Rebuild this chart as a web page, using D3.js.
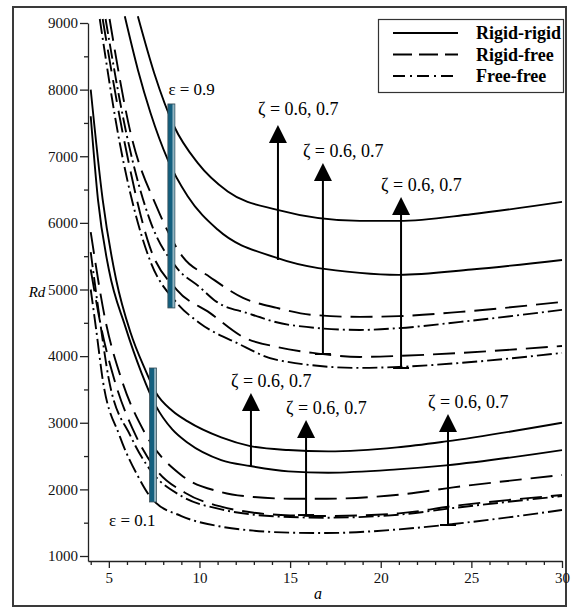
<!DOCTYPE html>
<html>
<head>
<meta charset="utf-8">
<script src="https://cdn.jsdelivr.net/npm/d3@7/dist/d3.min.js"></script>
<style>
  body { margin: 0; background: #fff; }
  svg text { font-family: "Liberation Serif", "Times New Roman", serif; }
</style>
</head>
<body>
<div id="chart"></div>
<script>
// ---- data: [a, Rd] ----
var xTicks = [5, 10, 15, 20, 25, 30];
var yTicks = [1000, 2000, 3000, 4000, 5000, 6000, 7000, 8000, 9000];

// epsilon = 0.9
var rrE9Z7 = [[6.6,9100],[7.5,8250],[8.6,7450],[9.9,6900],[11.56,6470],[14.3,6195],[18.85,6030],[21,6030],[25,6130],[30,6315]];
var rrE9Z6 = [[5.88,9100],[6.6,8300],[7.3,7650],[8.25,6950],[9.35,6400],[11,5900],[14.27,5474],[18.85,5250],[21,5220],[25,5300],[30,5444]];
var rfE9Z7 = [[5.04,9060],[6.2,7350],[7.64,6240],[9.08,5489],[10.57,5189],[12.4,4874],[14.27,4724],[16.25,4619],[18.85,4589],[21,4600],[24.4,4664],[30,4814]];
var ffE9Z7 = [[4.82,9060],[6.0,7300],[7.26,6045],[8.75,5324],[10,5039],[10.95,4814],[12.6,4649],[14.98,4468],[18.85,4393],[21,4420],[24.4,4514],[30,4694]];
var rfE9Z6 = [[4.66,9060],[5.8,7300],[7.26,5640],[8.75,4994],[10.57,4649],[12.4,4288],[14.27,4138],[16.25,4048],[18.85,3988],[21,4003],[24.4,4048],[30,4153]];
var ffE9Z6 = [[4.5,9060],[5.6,7200],[7.26,5444],[8.75,4799],[10,4498],[12.06,4198],[14.27,3943],[18.85,3823],[21,3838],[24.4,3898],[30,4048]];

// epsilon = 0.1
var rrE1Z7 = [[4,8000],[4.66,6350],[5.4,5150],[6.2,4350],[7.0,3800],[7.6,3450],[8.5,3180],[9.35,3020],[11.2,2780],[12.8,2650],[14.9,2590],[17.1,2570],[20.9,2630],[23.6,2720],[30,3000]];
var rrE1Z6 = [[4,7600],[4.4,6350],[5.0,5300],[5.9,4450],[6.8,3750],[7.6,3250],[8.5,2900],[9.35,2700],[11.2,2440],[12.8,2350],[14.9,2270],[17.1,2250],[20.9,2300],[23.6,2360],[30,2590]];
var rfE1Z7 = [[4,5860],[4.8,4550],[5.7,3650],[6.98,2850],[8.97,2220],[11.2,1960],[13,1885],[15,1860],[17,1860],[21,1920],[24,2030],[30,2215]];
var rfE1Z6 = [[4,5300],[4.6,4400],[5.3,3650],[6.5,2800],[7.6,2300],[9.2,1950],[11.2,1740],[13,1650],[15,1610],[17,1600],[21,1640],[24,1750],[30,1915]];
var ffE1Z7 = [[4,5560],[4.5,4550],[5.0,3650],[6.2,2800],[7.4,2250],[9,1900],[11.2,1700],[13,1620],[15,1585],[17,1575],[21,1620],[24,1720],[30,1900]];
var ffE1Z6 = [[4,5000],[4.3,4400],[4.66,3650],[5.6,2800],[6.6,2200],[7.4,1850],[9,1600],[11.2,1440],[13,1380],[15,1350],[17,1345],[21,1400],[24,1480],[30,1690]];

var series = [
  { kind: "rr", values: rrE9Z7 }, { kind: "rr", values: rrE9Z6 },
  { kind: "rf", values: rfE9Z7 }, { kind: "ff", values: ffE9Z7 },
  { kind: "rf", values: rfE9Z6 }, { kind: "ff", values: ffE9Z6 },
  { kind: "rr", values: rrE1Z7 }, { kind: "rr", values: rrE1Z6 },
  { kind: "rf", values: rfE1Z7 }, { kind: "rf", values: rfE1Z6 },
  { kind: "ff", values: ffE1Z7 }, { kind: "ff", values: ffE1Z6 }
];

var legendKinds = ["rr", "rf", "ff"];
var legendLabels = ["Rigid-rigid", "Rigid-free", "Free-free"];

// arrows: a, Rd at base, Rd at tip
var arrowA    = [14.33, 16.81, 21.12, 12.84, 15.88, 23.71];
var arrowBase = [5443, 4032, 3822, 2336, 1615, 1465];
var arrowTip  = [7470, 6899, 6389, 3447, 3041, 3132];
var arrowFoot = [false, true, true, false, true, true];
var arrowText = "ζ = 0.6, 0.7";

// epsilon bars: a, Rd bottom, Rd top
var barA = [8.45, 7.44];
var barLow = [4723, 1811];
var barHigh = [7785, 3822];
var barText = ["ε = 0.9", "ε = 0.1"];

// ---- drawing ----
var W = 571, H = 610;

var svg = d3.select("#chart").append("svg")
    .attr("width", W)
    .attr("height", H);

svg.append("rect")
    .attr("x", 13).attr("y", 7)
    .attr("width", 553).attr("height", 599)
    .attr("fill", "none")
    .attr("stroke", "#3a3a3a")
    .attr("stroke-width", 2);

var x = d3.scaleLinear().domain([3.85, 30]).range([88, 562]);
var y = d3.scaleLinear().domain([925, 9000]).range([561, 23]);

var dash = { rr: null, rf: "22,9", ff: "15,4,2,4" };
var legendDash = { rr: null, rf: "19,7", ff: "12,5,2,5" };

// axes
var yAxis = svg.append("g")
    .attr("transform", "translate(88,0)")
    .call(d3.axisLeft(y).tickValues(yTicks).tickSize(8).tickSizeOuter(0).tickFormat(d3.format("d")));
svg.append("g")
    .attr("transform", "translate(88,0)")
    .call(d3.axisLeft(y).tickValues(d3.range(1500, 9000, 1000)).tickSize(4).tickFormat(""))
    .select(".domain").remove();

var xAxis = svg.append("g")
    .attr("transform", "translate(0,561)")
    .call(d3.axisBottom(x).tickValues(xTicks).tickSize(7).tickSizeOuter(0));
svg.append("g")
    .attr("transform", "translate(0,561)")
    .call(d3.axisBottom(x).tickValues(d3.range(4, 30, 1).filter(function(d) { return d % 5 !== 0; })).tickSize(4).tickFormat(""))
    .select(".domain").remove();

svg.selectAll("g").attr("font-family", null);
svg.selectAll(".tick line, .domain").attr("stroke", "#222").attr("stroke-width", 1.3);
svg.selectAll(".tick text")
    .style("font-size", "15px")
    .attr("fill", "#111");
yAxis.selectAll(".tick text").attr("x", -10);
xAxis.selectAll(".tick text").attr("y", 11);

svg.append("text")
    .attr("x", 37).attr("y", 297)
    .style("font-style", "italic").style("font-size", "15px")
    .attr("text-anchor", "middle")
    .text("Rd");
svg.append("text")
    .attr("x", 318).attr("y", 599)
    .style("font-style", "italic").style("font-size", "16px")
    .attr("text-anchor", "middle")
    .text("a");

// curves
svg.append("clipPath").attr("id", "plot-clip")
  .append("rect").attr("x", 88).attr("y", 15).attr("width", 480).attr("height", 546);

var line = d3.line()
    .x(function(d) { return x(d[0]); })
    .y(function(d) { return y(d[1]); })
    .curve(d3.curveMonotoneX);

svg.append("g").attr("clip-path", "url(#plot-clip)")
  .selectAll("path")
  .data(series)
  .enter().append("path")
    .attr("d", function(d) { return line(d.values); })
    .attr("fill", "none")
    .attr("stroke", "#000")
    .attr("stroke-width", 1.9)
    .attr("stroke-dasharray", function(d) { return dash[d.kind]; });

// epsilon bars
barA.forEach(function(a, i) {
  var bx = x(a) - 3.5, top = y(barHigh[i]), h = y(barLow[i]) - y(barHigh[i]);
  svg.append("rect")
      .attr("x", bx).attr("y", top)
      .attr("width", 7).attr("height", h)
      .attr("fill", "#135f7e")
      .attr("stroke", "#3d4f57")
      .attr("stroke-width", 0.8);
  svg.append("rect")
      .attr("x", bx + 4.6).attr("y", top + 0.5)
      .attr("width", 2).attr("height", h - 1)
      .attr("fill", "#93b4c1");
});
svg.append("text")
    .attr("x", x(barA[0]) - 3).attr("y", y(barHigh[0]) - 9)
    .style("font-size", "17px")
    .text(barText[0]);
svg.append("text")
    .attr("x", x(barA[1]) - 44).attr("y", y(barLow[1]) + 24)
    .style("font-size", "17px")
    .text(barText[1]);

// arrows
arrowA.forEach(function(a, i) {
  var ax = x(a), yb = y(arrowBase[i]), yt = y(arrowTip[i]);
  svg.append("line")
      .attr("x1", ax).attr("x2", ax)
      .attr("y1", yb).attr("y2", yt + 16)
      .attr("stroke", "#000").attr("stroke-width", 2);
  svg.append("path")
      .attr("d", "M" + ax + "," + yt + "L" + (ax + 9) + "," + (yt + 18) + "L" + (ax - 9) + "," + (yt + 18) + "Z")
      .attr("fill", "#000");
  if (arrowFoot[i]) {
    svg.append("line")
        .attr("x1", ax - 8).attr("x2", ax + 8)
        .attr("y1", yb).attr("y2", yb)
        .attr("stroke", "#000").attr("stroke-width", 2);
  }
  svg.append("text")
      .attr("x", ax - 20).attr("y", yt - (i === 0 ? 10 : 6))
      .style("font-size", "18px")
      .text(arrowText);
});

// legend
var legend = svg.append("g");
legend.append("rect")
    .attr("x", 378.5).attr("y", 19.5)
    .attr("width", 185).attr("height", 73)
    .attr("fill", "#fff")
    .attr("stroke", "#333")
    .attr("stroke-width", 1.2);
legendKinds.forEach(function(k, i) {
  var ly = 33 + i * 21.5;
  legend.append("line")
      .attr("x1", 393).attr("x2", 458)
      .attr("y1", ly).attr("y2", ly)
      .attr("stroke", "#000").attr("stroke-width", 2)
      .attr("stroke-dasharray", legendDash[k]);
  legend.append("text")
      .attr("x", 476).attr("y", ly + 6)
      .style("font-weight", "bold").style("font-size", "18px")
      .text(legendLabels[i]);
});
</script>
</body>
</html>
